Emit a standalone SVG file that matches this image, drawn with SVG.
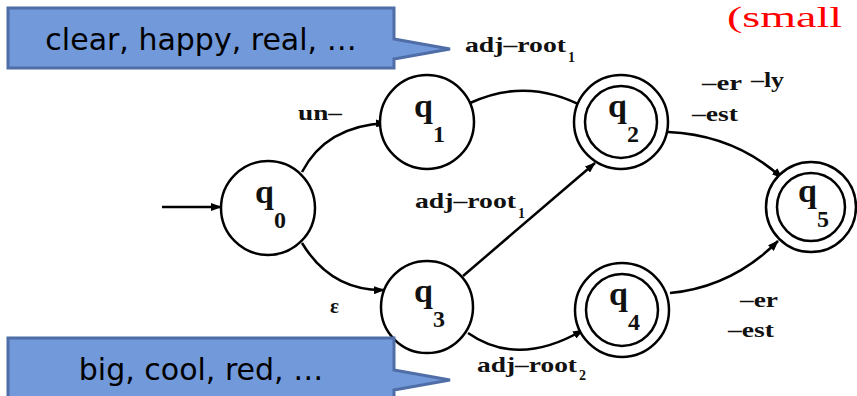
<svg xmlns="http://www.w3.org/2000/svg" width="857" height="396" viewBox="0 0 857 396">
<style>
.st{fill:#fff;stroke:#000;stroke-width:2.5}
.in{fill:none;stroke:#000;stroke-width:2.5}
.ql{font-family:"Liberation Serif","Times New Roman",serif;font-weight:bold;font-size:34px;fill:#111}
.qs{font-size:24px}
.e{fill:none;stroke:#000;stroke-width:2.5;marker-end:url(#ah)}
.lb{font-family:"Liberation Serif","Times New Roman",serif;font-weight:bold;font-size:21px;fill:#111}
.sb{font-size:14px}
.co{fill:#7299DA;stroke:#4F6DA6;stroke-width:3;stroke-linejoin:miter}
.ct{font-family:"DejaVu Sans",Verdana,sans-serif;font-size:30px;fill:#000;text-anchor:middle}
.red{font-family:"Liberation Serif","Times New Roman",serif;font-size:30px;fill:#FF0000}
</style>
<defs>
<marker id="ah" markerWidth="11" markerHeight="8" refX="10" refY="4" orient="auto" markerUnits="userSpaceOnUse">
<path d="M0,0 L11,4 L0,8 Z" fill="#000"/>
</marker>
</defs>
<text class="red" x="727" y="27" textLength="115" lengthAdjust="spacingAndGlyphs">(small</text>
<g id="edges">
<path class="e" d="M162,207 L221,207"/>
<path class="e" d="M302,172 Q326,126 386,123"/>
<path class="e" d="M302,243 Q331,291 384,290"/>
<path class="e" d="M470,103 Q528,76 586,108"/>
<path class="e" d="M463,276 L595,163"/>
<path class="e" d="M468,333 Q518,368 583,330"/>
<path class="e" d="M668,132 Q735,135 782,178"/>
<path class="e" d="M670,293 Q732,287 778,241"/>
<text class="lb" x="298" y="120" textLength="44" lengthAdjust="spacingAndGlyphs">un–</text>
<text class="lb" x="330" y="313">ε</text>
<text class="lb" x="465" y="52"><tspan textLength="101" lengthAdjust="spacingAndGlyphs">adj–root</tspan><tspan class="sb" x="568" y="62">1</tspan></text>
<text class="lb" x="415" y="208"><tspan textLength="101" lengthAdjust="spacingAndGlyphs">adj–root</tspan><tspan class="sb" x="518" y="218">1</tspan></text>
<text class="lb" x="477" y="372"><tspan textLength="100" lengthAdjust="spacingAndGlyphs">adj–root</tspan><tspan class="sb" x="579" y="380">2</tspan></text>
<text class="lb" x="702" y="90" textLength="40" lengthAdjust="spacingAndGlyphs">–er</text>
<text class="lb" x="751" y="87" textLength="33" lengthAdjust="spacingAndGlyphs">–ly</text>
<text class="lb" x="692" y="121" textLength="46" lengthAdjust="spacingAndGlyphs">–est</text>
<text class="lb" x="740" y="307" textLength="38" lengthAdjust="spacingAndGlyphs">–er</text>
<text class="lb" x="728" y="337" textLength="46" lengthAdjust="spacingAndGlyphs">–est</text>
</g>
<g id="q0">
<circle class="st" cx="268" cy="208" r="47"/>
<text class="ql" x="255" y="203">q<tspan class="qs" y="228">0</tspan></text>
</g>
<g id="q1">
<circle class="st" cx="427" cy="122" r="47"/>
<text class="ql" x="414" y="117">q<tspan class="qs" y="142">1</tspan></text>
</g>
<g id="q2">
<circle class="st" cx="621" cy="122" r="47"/>
<circle class="in" cx="621" cy="122" r="36"/>
<text class="ql" x="608" y="117">q<tspan class="qs" y="142">2</tspan></text>
</g>
<g id="q3">
<circle class="st" cx="427" cy="307" r="46"/>
<text class="ql" x="414" y="302">q<tspan class="qs" y="327">3</tspan></text>
</g>
<g id="q4">
<circle class="st" cx="622" cy="310" r="47"/>
<circle class="in" cx="622" cy="310" r="36"/>
<text class="ql" x="609" y="305">q<tspan class="qs" y="330">4</tspan></text>
</g>
<g id="q5">
<circle class="st" cx="811" cy="207" r="45"/>
<circle class="in" cx="811" cy="207" r="34"/>
<text class="ql" x="798" y="202">q<tspan class="qs" y="227">5</tspan></text>
</g>
<g id="callout1">
<path class="co" d="M8,8 H394 V39 L450,49 L394,59 V68 H8 Z"/>
<text class="ct" x="201" y="50">clear, happy, real, …</text>
</g>
<g id="callout2">
<path class="co" d="M8,338 H394 V370 L450,380 L394,390 V402 H8 Z"/>
<text class="ct" x="201" y="380">big, cool, red, …</text>
</g>
</svg>
